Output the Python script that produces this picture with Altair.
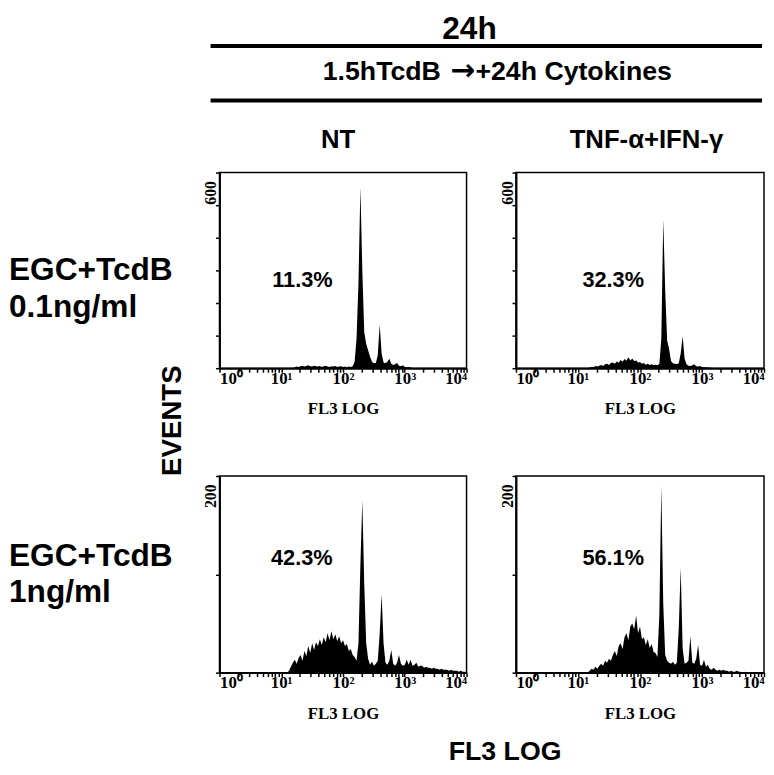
import altair as alt
import pandas as pd

SANS = "Liberation Sans"
SERIF = "Liberation Serif"
CH_PER_DECADE = 32  # histogram channels per decade of FL3

# ---------------- data ----------------
# channel index of the first value; counts per channel (events)
tl_start = 38
tl_counts = [0, 3, 5, 4, 6, 8, 5, 7, 9, 6, 5, 8, 6, 5, 7, 4, 6, 8, 5, 4, 6, 5, 7, 4, 5, 6, 4, 5, 3, 5, 4, 6,
             20, 90, 260, 555, 300, 110, 75, 55, 35, 20, 15, 16, 40, 133, 45, 18, 15, 20, 29, 14, 10, 12, 16,
             8, 6, 9, 4, 3, 4, 2, 1, 1, 0]

tr_start = 37
tr_counts = [0, 2, 4, 3, 7, 5, 8, 10, 7, 12, 14, 10, 16, 18, 14, 21, 17, 25, 20, 28, 23, 34, 24, 30, 22, 24,
             18, 19, 14, 16, 11, 14, 10, 12, 9, 11, 9, 14,
             90, 456, 240, 85, 60, 22, 15, 14, 13, 15, 45, 98, 30, 12, 8, 7, 9, 12, 6, 5, 7, 4, 3, 3, 2, 2, 1, 0]

bl_start = 35
bl_counts = [0, 2, 6, 10, 13, 9, 15, 18, 12, 22, 17, 27, 20, 30, 23, 31, 27, 34, 28, 36, 31, 40, 33, 42, 34,
             39, 32, 37, 30, 33, 27, 29, 22, 24, 18, 16, 12, 30, 110, 175, 90, 30, 14, 8, 11, 7, 9, 12, 40,
             80, 30, 10, 8, 12, 23, 9, 7, 10, 18, 9, 7, 8, 13, 8, 13, 7, 8, 10, 6, 7, 7, 5, 6, 5, 5, 4, 5, 4,
             4, 3, 4, 3, 3, 3, 2, 3, 2, 2, 2, 1, 2, 1, 1, 0]

br_start = 37
br_counts = [0, 2, 4, 3, 6, 4, 7, 9, 7, 12, 10, 14, 12, 18, 22, 17, 27, 30, 24, 36, 40, 33, 47, 50, 44, 58,
             40, 47, 34, 36, 28, 34, 25, 29, 21, 20, 16, 60, 190, 70, 18, 12, 10, 9, 11, 8, 10, 45, 107, 25,
             9, 10, 12, 37, 10, 9, 14, 28, 8, 7, 13, 6, 8, 4, 3, 5, 3, 2, 3, 2, 3, 2, 2, 1, 2, 1, 1, 2, 1, 1,
             0, 1, 0]

pct_labels = ["11.3%", "32.3%", "42.3%", "56.1%"]
pct_x = [22, 37, 21.5, 37]
pct_y = [270, 270, 117, 117]

col_titles = ["NT", "TNF-\u03b1+IFN-\u03b3"]
row_titles = ["EGC+TcdB\n0.1ng/ml", "EGC+TcdB\n1ng/ml"]
row_ymax = [600, 200]
row_ystep = [100, 100]

decades = [1, 10, 100, 1000, 10000]
decade_labels = ["10\u2070", "10\u00b9", "10\u00b2", "10\u00b3", "10\u2074"]
minor_mult = [1, 2, 3, 4, 5, 6, 7, 8, 9]

# ---------------- helpers ----------------
xtick_values = [m * d for d in decades[:-1] for m in minor_mult] + [decades[-1]]
label_expr = "".join(f"datum.value == {d} ? '{l}' : " for d, l in zip(decades, decade_labels)) + "''"

PW, PH1, PH2 = 250, 198, 199
HDR_H = 52


def panel(start, counts, ymax, ystep, pct, px, py, height, width=PW):
    df = pd.DataFrame({
        "fl3": [10 ** ((start + k) / CH_PER_DECADE) for k in range(len(counts))],
        "events": counts,
    })
    x_enc = alt.X("fl3:Q",
                  scale=alt.Scale(type="log", domain=[1, 10000], nice=False),
                  axis=alt.Axis(values=xtick_values, labelExpr=label_expr, labelFlush=True,
                                labelOverlap=False, labelFont=SERIF, labelFontSize=17,
                                labelFontWeight="bold", labelColor="black", labelPadding=-2,
                                tickSize=4, tickWidth=1.5, tickColor="black",
                                domainColor="black", domainWidth=2, grid=False,
                                title="FL3 LOG", titleFont=SERIF, titleFontSize=17,
                                titleFontWeight="bold", titleColor="black", titlePadding=15))
    yvals = list(range(0, ymax + 1, ystep))
    y_enc = alt.Y("events:Q",
                  scale=alt.Scale(domain=[0, ymax], nice=False, zero=True),
                  axis=alt.Axis(values=yvals, labelExpr=f"datum.value == {ymax} ? '{ymax}' : ''",
                                labelAngle=270, labelAlign="right", labelBaseline="alphabetic",
                                labelPadding=0, labelOffset=8, labelFont=SERIF, labelFontSize=16,
                                labelFontWeight="bold", labelColor="black", labelOverlap=False,
                                tickSize=4, tickWidth=1.5, tickColor="black",
                                domainColor="black", domainWidth=2, grid=False, title=None))
    area = alt.Chart(df).mark_area(color="black", interpolate="linear").encode(x=x_enc, y=y_enc)
    tdf = pd.DataFrame({"fl3": [px], "events": [py], "label": [pct]})
    txt = alt.Chart(tdf).mark_text(font=SANS, fontSize=22, fontWeight="bold", color="black",
                                   align="center", baseline="middle").encode(x=x_enc, y=y_enc, text="label:N")
    return alt.layer(area, txt).properties(
        width=width, height=height,
        view=alt.ViewBackground(stroke="black", strokeWidth=1.5))


def text_mark(text, x, y, size, font=SANS, **kw):
    return alt.Chart(pd.DataFrame({"t": [text]})).mark_text(
        font=font, fontSize=size, fontWeight="bold", color="black", **kw
    ).encode(text="t:N", x=alt.value(x), y=alt.value(y))


def hline(x1, x2, y, w):
    return alt.Chart(pd.DataFrame({"a": [0]})).mark_rule(color="black", strokeWidth=w).encode(
        x=alt.value(x1), x2=alt.value(x2), y=alt.value(y))


def empty(width, height):
    return alt.Chart(pd.DataFrame({"t": [""]})).mark_text().encode(
        text="t:N", x=alt.value(width / 2), y=alt.value(height / 2)).properties(width=width, height=height)


# ---------------- header (drawn from the first grid cell, overflowing) ----------------
header = alt.layer(
    text_mark("24h", 466, 16, 32, align="center", baseline="middle"),
    hline(204, 762, 33, 4),
    text_mark("1.5hTcdB", 437, 59, 27, align="right", baseline="middle"),
    text_mark("\u2192", 459, 58, 30, font="DejaVu Sans", align="center", baseline="middle"),
    text_mark("+24h Cytokines", 472, 59, 27, align="left", baseline="middle"),
    hline(204, 762, 88, 4),
    text_mark(col_titles[0], 333, 128, 26, align="center", baseline="middle"),
    text_mark(col_titles[1], 645, 128, 26, align="center", baseline="middle"),
).properties(width=163, height=HDR_H)

# ---------------- row label columns ----------------
lab1 = alt.layer(
    text_mark(row_titles[0], 0, 99, 32, align="left", baseline="middle", lineBreak="\n", lineHeight=37),
    text_mark("EVENTS", 166, 251, 28, align="center", baseline="middle", angle=270),
).properties(width=163, height=PH1)

lab2 = alt.layer(
    text_mark(row_titles[1], 0, 81, 32, align="left", baseline="middle", lineBreak="\n", lineHeight=37),
    text_mark("FL3 LOG", 502, 279, 27, align="center", baseline="middle"),
).properties(width=163, height=PH2)

tl = panel(tl_start, tl_counts, row_ymax[0], row_ystep[0], pct_labels[0], pct_x[0], pct_y[0], PH1)
tr = panel(tr_start, tr_counts, row_ymax[0], row_ystep[0], pct_labels[1], pct_x[1], pct_y[1], PH1, 251)
bl = panel(bl_start, bl_counts, row_ymax[1], row_ystep[1], pct_labels[2], pct_x[2], pct_y[2], PH2)
br = panel(br_start, br_counts, row_ymax[1], row_ystep[1], pct_labels[3], pct_x[3], pct_y[3], PH2, 251)

chart = alt.concat(
    header, empty(PW, HDR_H), empty(251, HDR_H),
    lab1, tl, tr,
    lab2, bl, br,
    columns=3, spacing={"row": 109, "column": 50}, bounds="flush",
).resolve_scale(
    x="independent", y="independent"
).properties(padding=0, background="white").configure_view(stroke="transparent")

chart.save("out.html", embed_options={"renderer": "svg", "actions": False})
